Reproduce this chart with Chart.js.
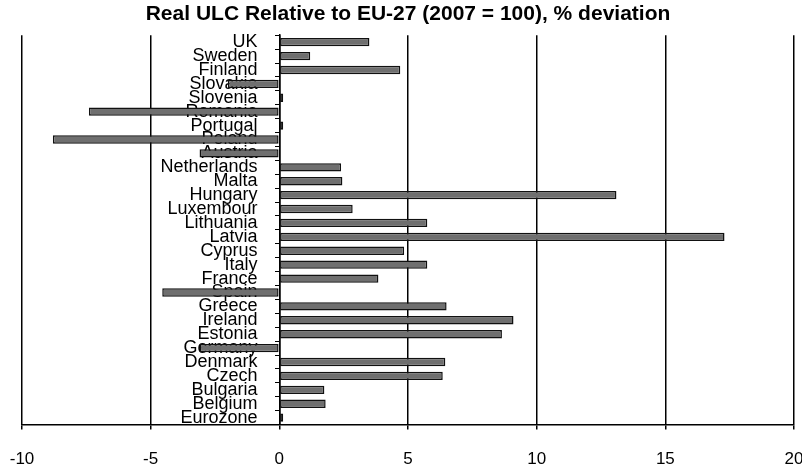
<!DOCTYPE html>
<html>
<head>
<meta charset="utf-8">
<script src="https://cdn.jsdelivr.net/npm/chart.js@4"></script>
<style>
  html, body { margin: 0; padding: 0; background: #fff; }
  #wrap { width: 802px; height: 469px; }
</style>
</head>
<body>
<div id="wrap"><canvas id="ulcChart"></canvas></div>
<script>
// ── data ──
const countries = ['UK', 'Sweden', 'Finland', 'Slovakia', 'Slovenia', 'Romania', 'Portugal',
  'Poland', 'Austria', 'Netherlands', 'Malta', 'Hungary', 'Luxembour', 'Lithuania', 'Latvia',
  'Cyprus', 'Italy', 'France', 'Spain', 'Greece', 'Ireland', 'Estonia', 'Germany', 'Denmark',
  'Czech', 'Bulgaria', 'Belgium', 'Eurozone'];
const deviation = [3.5, 1.2, 4.7, -2.0, 0.15, -7.4, 0.15, -8.8, -3.1, 2.4, 2.45, 13.1, 2.85,
  5.75, 17.3, 4.85, 5.75, 3.85, -4.55, 6.5, 9.1, 8.65, -3.1, 6.45, 6.35, 1.75, 1.8, 0.15];
const xTicks = [-10, -5, 0, 5, 10, 15, 20];

const titleText = 'Real ULC Relative to EU-27 (2007 = 100), % deviation';
const FONT = "'Liberation Sans', Arial, sans-serif";

const ctx = document.getElementById('ulcChart').getContext('2d');
new Chart(ctx, {
  type: 'bar',
  data: {
    labels: countries,
    datasets: [{
      data: deviation,
      yAxisID: 'y',
      backgroundColor: '#6f6f6f',
      borderColor: '#111',
      borderWidth: 1.5,
      borderSkipped: false,
      barPercentage: 0.6,
      categoryPercentage: 1.0
    }]
  },
  options: {
    indexAxis: 'y',
    responsive: true,
    maintainAspectRatio: false,
    animation: false,
    layout: { padding: { left: 22, right: 8, top: 0, bottom: -21 } },
    plugins: {
      legend: { display: false },
      tooltip: { enabled: false },
      title: {
        display: true,
        text: titleText,
        color: '#000',
        font: { family: FONT, size: 21, weight: 'bold' },
        padding: { top: 2, bottom: 8 }
      }
    },
    scales: {
      x: {
        min: xTicks[0],
        max: xTicks[xTicks.length - 1],
        afterBuildTicks: axis => { axis.ticks = xTicks.map(v => ({ value: v })); },
        // tick padding would otherwise widen the side margins too
        afterFit: axis => { axis.paddingLeft = 0; axis.paddingRight = 0; },
        border: { color: '#000', width: 1.5 },
        grid: { color: '#000', lineWidth: 1.5, tickLength: 5 },
        ticks: {
          color: '#000',
          padding: 20,
          font: { family: FONT, size: 17 }
        }
      },
      // axis line and small ticks at zero
      y: {
        position: { x: 0 },
        border: { color: '#000', width: 1.5 },
        grid: { drawOnChartArea: false, color: '#000', lineWidth: 1, tickLength: 4 },
        ticks: { display: false }
      },
      // country names, set a little to the left of zero and drawn over the bars
      yNames: {
        type: 'category',
        position: { x: -0.85 },
        z: 1,
        border: { display: false },
        grid: { display: false },
        ticks: {
          autoSkip: false,
          color: '#000',
          font: { family: FONT, size: 18 }
        }
      }
    }
  }
});
</script>
</body>
</html>
